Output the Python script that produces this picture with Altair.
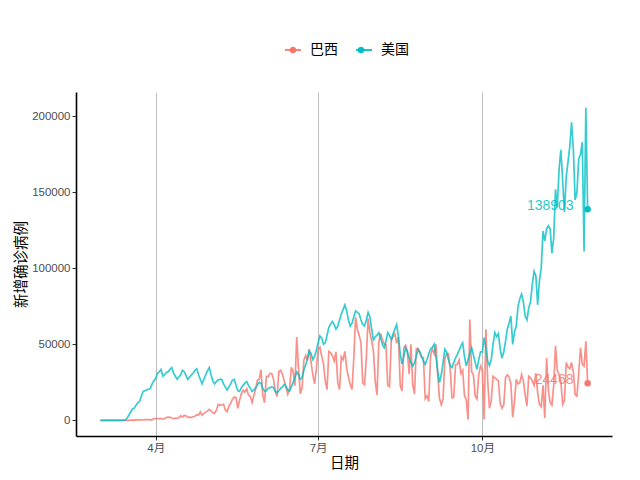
import altair as alt
import pandas as pd

start_date = "2020-03-01"
countries = ["巴西", "美国"]
colors = ["#F8766D", "#00BFC4"]

us_mar = [0, 0, 1, 1, 2, 3, 5, 10, 10, 20, 30, 50, 80, 150,
          300, 1500, 3500, 5500, 7500, 8000, 10000, 11500, 12500, 16000, 19000, 19500, 20000, 20500, 21000, 24000, 26000]
us_apr = [27500, 31000, 32000, 33500, 29000, 30000, 31500, 32000, 33500, 34700,
          31000, 29000, 27000, 28500, 30000, 33000, 32000, 29500, 27000, 28500,
          30000, 31000, 33000, 34000, 30000, 27000, 24000, 27000, 30000, 32500]
us_may = [34700, 30000, 26000, 24000, 25500, 26500, 27000, 27000, 24000, 22000,
          20000, 22000, 24000, 26500, 27000, 23000, 19500, 19000, 21500, 23000,
          24500, 25500, 23000, 21000, 19000, 20000, 21500, 23500, 25000, 24500, 21000]
us_jun = [19300, 19500, 21000, 21500, 22000, 21500, 19000, 18200, 19500, 21000,
          22000, 23700, 22500, 20000, 19300, 22000, 25000, 28000, 31800, 30000,
          27000, 28000, 33000, 36500, 40500, 45600, 44000, 40000, 42000, 46000]
us_jul = [51000, 55500, 54000, 50000, 51000, 56000, 61000, 63500, 65000, 63000,
          60000, 62000, 66000, 70000, 73000, 76000, 72000, 66000, 62000, 64000,
          68000, 72000, 71000, 70000, 66000, 63000, 62000, 66000, 71000, 68000, 60000]
us_aug = [53000, 55000, 56000, 57700, 54000, 50000, 47800, 52000, 57700, 56000,
          53000, 57000, 60000, 63000, 55000, 44000, 37000, 42000, 47800, 45000,
          41000, 38000, 35700, 38000, 42000, 46700, 45000, 42000, 39000, 36800, 40000]
us_sep = [44000, 47000, 48000, 50000, 42000, 32000, 24800, 30000, 38000, 46700,
          45000, 40000, 36000, 34700, 38000, 41000, 43400, 46000, 49000, 51000,
          42000, 35700, 40000, 44000, 47800, 43000, 38000, 33500, 40000, 45000]
us_oct = [45000, 54400, 48000, 39000, 36000, 40000, 50000, 57700, 55000, 57000,
          47000, 41000, 45000, 52000, 60000, 64000, 68600, 50000, 58000, 62000,
          75000, 80000, 83000, 78000, 68600, 66000, 74000, 78000, 89500, 98000, 95000]
us_nov = [76000, 92000, 100000, 124500, 118000, 126000, 128000, 126000, 110000, 120000,
          152000, 140000, 165000, 178000, 158000, 137000, 160000, 170000, 180000, 196000,
          178000, 145000, 150000, 172000, 175000, 183000, 111000, 205700, 138903]

br_mar = [0, 0, 0, 0, 1, 4, 6, 6, 5, 9, 13, 25, 21, 23, 79, 34, 57, 137, 193, 283,
          224, 418, 345, 310, 232, 482, 502, 487, 352, 323, 1138]
br_apr = [1119, 1208, 1012, 1304, 770, 1031, 1873, 2136, 1922, 1546,
          1089, 1465, 1238, 1832, 3058, 2105, 3257, 2976, 1996, 2089,
          1927, 2498, 2678, 3735, 3503, 5514, 3379, 4613, 5385, 6276]
br_may = [7218, 6209, 4970, 4588, 6633, 10503, 9888, 10222, 10611, 6760,
          5632, 9258, 11385, 13944, 15305, 14919, 7938, 13140, 17408, 19951,
          18508, 20803, 16508, 15813, 11687, 16324, 20599, 26417, 26928, 33274, 16409]
br_jun = [11598, 28936, 28633, 30925, 30830, 27075, 18912, 15654, 32091, 32913,
          30412, 25982, 21704, 17110, 20647, 34918, 32188, 22765, 54771, 34666,
          17459, 21432, 39436, 42725, 39483, 46860, 38693, 30476, 24052, 33846]
br_jul = [46712, 48105, 42223, 37279, 26051, 20229, 45305, 44571, 42619, 39023,
          45048, 24831, 20286, 41857, 39924, 45403, 34177, 28532, 23529, 20257,
          41008, 67860, 59961, 55891, 51147, 24578, 23284, 40816, 67000, 57837, 52383]
br_aug = [45392, 25800, 16641, 51603, 57152, 53139, 50230, 49970, 23010, 22048,
          52160, 55155, 57000, 50644, 55000, 23101, 19373, 47784, 49298, 45323,
          30355, 50032, 23421, 17372, 47134, 47161, 44235, 41350, 41305, 14279, 16158]
br_sep = [12386, 42659, 46934, 43773, 50163, 30168, 14521, 10273, 14279, 40557,
          43718, 43812, 33523, 14768, 15155, 36653, 36820, 39797, 30914, 33057,
          16389, 13439, 500, 66400, 32000, 30000, 16000, 14000, 30000, 35700]
br_oct = [33000, 600, 60000, 26000, 8000, 13000, 29000, 28000, 27000, 26000,
          11600, 8000, 10000, 28000, 30000, 28500, 24000, 2000, 12000, 27000,
          24000, 24800, 30000, 26000, 17000, 9400, 29000, 28000, 26000, 23000, 31000]
br_nov = [18000, 10500, 9000, 23000, 1500, 41000, 20000, 11600, 10000, 23000,
          49000, 33000, 30000, 26000, 10500, 13000, 38000, 35000, 34000, 38000,
          32000, 17000, 16000, 31000, 47800, 37000, 35700, 52000, 24468]

us = us_mar + us_apr + us_may + us_jun + us_jul + us_aug + us_sep + us_oct + us_nov
br = br_mar + br_apr + br_may + br_jun + br_jul + br_aug + br_sep + br_oct + br_nov

n = len(us)
dates = pd.date_range(start_date, periods=n, freq="D").strftime("%Y-%m-%dT%H:%M:%S").tolist()
df = pd.DataFrame({
    "date": dates + dates,
    "country": [countries[0]] * n + [countries[1]] * n,
    "cases": br + us,
})
# a second key (with an invisible zero-width suffix) so that the dot legend is not merged into the line legend
ZW = "\u200b"
df["key2"] = df["country"] + ZW
last = df[df["date"] == dates[-1]]

x_enc = alt.X(
    "date:T",
    scale=alt.Scale(domain=["2020-02-16T08:24:00", "2020-12-12T15:36:00"]),
    axis=alt.Axis(
        values=[alt.DateTime(year=2020, month=4, date=1),
                alt.DateTime(year=2020, month=7, date=1),
                alt.DateTime(year=2020, month=10, date=1)],
        labelExpr="(month(datum.value)+1) + '月'",
        title="日期",
        grid=True,
        titlePadding=3,
    ),
)
y_enc = alt.Y(
    "cases:Q",
    scale=alt.Scale(domain=[-10285, 215985], nice=False, zero=False),
    axis=alt.Axis(values=[0, 50000, 100000, 150000, 200000], format="d",
                  title="新增确诊病例", grid=False, titlePadding=3),
)
cscale = alt.Scale(domain=countries, range=colors)
fscale = alt.Scale(domain=[c + ZW for c in countries], range=colors)

common_leg = dict(
    title=None, orient="none", legendX=208, legendY=-51, direction="horizontal",
    symbolSize=256, symbolOpacity=1, padding=0,
)
leg_line = alt.Legend(symbolType="M-1,0H1", symbolStrokeWidth=1.8,
                      labelColor="black", labelFont="Noto Sans CJK SC", labelFontSize=14,
                      labelOffset=8, columnPadding=14, **common_leg)
# dot legend: same symbol positions, no labels (label width 28 px is added to the column gap)
leg_dot = alt.Legend(symbolType="M0.42,0A0.42,0.42,0,1,1,-0.42,0A0.42,0.42,0,1,1,0.42,0Z",
                     labelExpr="''", labelOffset=8, columnPadding=42, **common_leg)

lines = alt.Chart(df).mark_line(strokeWidth=1.7, opacity=0.8).encode(
    x=x_enc, y=y_enc,
    color=alt.Color("country:N", scale=cscale, legend=leg_line),
)

points = alt.Chart(last).mark_circle(size=42, opacity=1).encode(
    x=x_enc, y=y_enc,
    fill=alt.Fill("key2:N", scale=fscale, legend=leg_dot),
)

labels = alt.Chart(last).mark_text(
    align="right", baseline="middle", dx=-14, dy=-3, fontSize=14,
    font="Liberation Sans", opacity=0.85,
).encode(
    x=x_enc, y=y_enc, text=alt.Text("cases:Q", format="d"),
    color=alt.Color("country:N", scale=cscale, legend=leg_line),
)

chart = alt.layer(lines, labels, points).properties(
    width=536, height=344,
    autosize=alt.AutoSizeParams(type="none"),
    padding={"left": 68, "top": 84, "right": 20, "bottom": 36},
    background="white",
).configure_view(stroke=None).configure_axis(
    domainColor="black", domainWidth=1.6,
    tickColor="#333333", tickSize=4, tickWidth=1,
    labelColor="#4D4D4D", labelFontSize=11.5, labelFont="Liberation Sans, Noto Sans CJK SC",
    labelPadding=2,
    titleFont="Noto Sans CJK SC", titleFontSize=14.5, titleFontWeight="normal", titleColor="black",
    gridColor="#BEBEBE", gridWidth=1,
)

chart.save("out.html", embed_options={"renderer": "svg", "actions": False})
